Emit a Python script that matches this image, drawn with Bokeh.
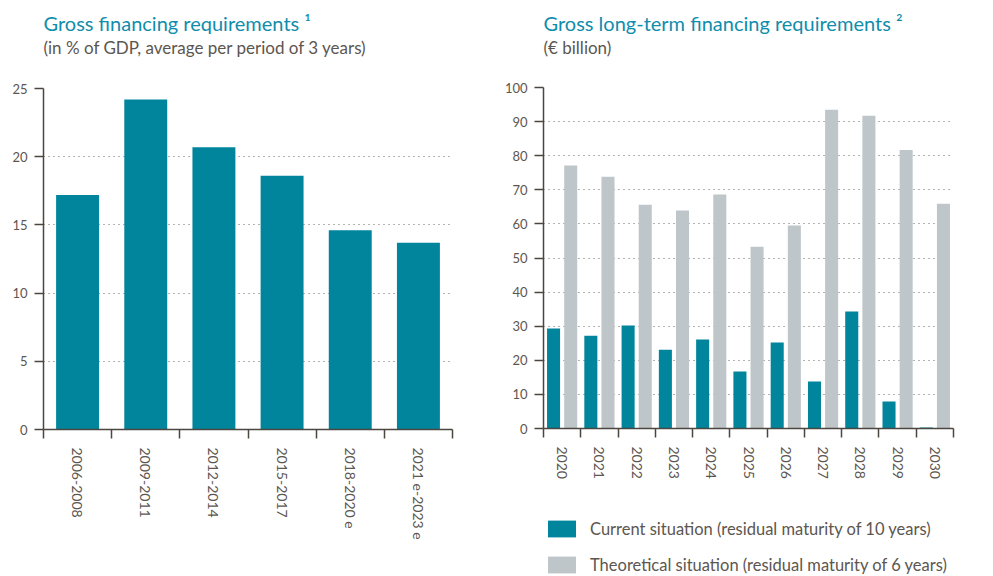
from bokeh.plotting import figure
from bokeh.models import FixedTicker, Range1d, Title, Legend, LegendItem
from bokeh.layouts import row, column
from bokeh.embed import file_html
from bokeh.resources import INLINE

# ---------------- data ----------------
periods = ["2006-2008", "2009-2011", "2012-2014", "2015-2017", "2018-2020 e", "2021 e-2023 e"]
gross_pct = [17.2, 24.2, 20.7, 18.6, 14.6, 13.7]
left_yticks = [0, 5, 10, 15, 20, 25]

years = ["2020", "2021", "2022", "2023", "2024", "2025", "2026", "2027", "2028", "2029", "2030"]
current = [29.3, 27.2, 30.2, 23.1, 26.1, 16.7, 25.2, 13.8, 34.3, 7.9, 0.3]
theoretical = [77.1, 73.8, 65.6, 63.9, 68.6, 53.3, 59.5, 93.5, 91.7, 81.7, 65.9]
right_yticks = [0, 10, 20, 30, 40, 50, 60, 70, 80, 90, 100]

title_left = "Gross financing requirements \u00b9"
sub_left = "(in % of GDP, average per period of 3 years)"
title_right = "Gross long-term financing requirements \u00b2"
sub_right = "(\u20ac billion)"
legend_current = "Current situation (residual maturity of 10 years)"
legend_theoretical = "Theoretical situation (residual maturity of 6 years)"

# ---------------- style ----------------
FONT = "Lato"
TEAL = "#00859c"
GREY = "#bfc6c9"
TITLE_C = "#0f8dab"
TEXT_C = "#5c5650"
AXIS_C = "#4b463f"


def add_titles(p, main, sub, spacer_standoff):
    p.add_layout(Title(text=" ", text_font_size="10px", standoff=spacer_standoff,
                       text_font=FONT), "above")
    p.add_layout(Title(text=sub, align="left", text_font=FONT, text_font_size="17px",
                       text_font_style="normal", text_color=TEXT_C, standoff=0, offset=0), "above")
    p.add_layout(Title(text=main, align="left", text_font=FONT, text_font_size="20px",
                       text_font_style="normal", text_color=TITLE_C, standoff=0, offset=0), "above")


def style_axes(p, yticks, cats):
    n = len(cats)
    p.outline_line_color = None
    p.xgrid.visible = False
    p.ygrid.ticker = FixedTicker(ticks=yticks)
    p.ygrid.grid_line_color = "#6b665f"
    p.ygrid.grid_line_dash = "1 4"
    p.ygrid.grid_line_width = 1

    ya = p.yaxis[0]
    ya.ticker = FixedTicker(ticks=yticks, minor_ticks=[])
    ya.axis_line_color = AXIS_C
    ya.axis_line_width = 1.5
    ya.major_tick_line_color = AXIS_C
    ya.major_tick_line_width = 1.5
    ya.major_tick_in = 0
    ya.major_tick_out = 9
    ya.minor_tick_line_color = None
    ya.major_label_standoff = 7
    ya.major_label_text_font = FONT
    ya.major_label_text_font_size = "13px"
    ya.major_label_text_color = TEXT_C

    xa = p.xaxis[0]
    centers = list(range(n))
    bounds = [i - 0.5 for i in range(n + 1)]
    xa.ticker = FixedTicker(ticks=centers, minor_ticks=bounds)
    xa.major_label_overrides = {i: c for i, c in zip(centers, cats)}
    xa.axis_line_color = AXIS_C
    xa.axis_line_width = 1.5
    xa.major_tick_line_color = None
    xa.major_tick_in = 0
    xa.major_tick_out = 0
    xa.minor_tick_line_color = AXIS_C
    xa.minor_tick_line_width = 1.5
    xa.minor_tick_in = 0
    xa.minor_tick_out = 9
    xa.major_label_orientation = "vertical"
    xa.major_label_standoff = 9
    xa.major_label_text_font = FONT
    xa.major_label_text_font_size = "14px"
    xa.major_label_text_color = TEXT_C


# ---------------- left chart ----------------
p1 = figure(width=498, height=576, output_backend="svg", toolbar_location=None,
            x_range=Range1d(-0.5, len(periods) - 0.5), y_range=Range1d(0, 25),
            min_border_left=43, min_border_right=46, min_border_top=88, min_border_bottom=147)
p1.vbar(x=list(range(len(periods))), top=gross_pct, width=0.63, fill_color=TEAL, line_color=None)
style_axes(p1, left_yticks, periods)
add_titles(p1, title_left, sub_left, 17)

# ---------------- right chart ----------------
idx = list(range(len(years)))
p2 = figure(width=495, height=500, output_backend="svg", toolbar_location=None,
            x_range=Range1d(-0.5, len(years) - 0.5), y_range=Range1d(0, 100),
            min_border_left=45, min_border_right=40, min_border_top=87, min_border_bottom=72)
p2.vbar(x=[i - 0.23 for i in idx], top=current, width=0.35, fill_color=TEAL, line_color=None)
p2.vbar(x=[i + 0.23 for i in idx], top=theoretical, width=0.35, fill_color=GREY, line_color=None)
style_axes(p2, right_yticks, years)
add_titles(p2, title_right, sub_right, 16)

# ---------------- legend strip (same series; value window kept off-view) ----------------
pl = figure(width=495, height=76, output_backend="svg", toolbar_location=None,
            x_range=Range1d(-0.5, len(years) - 0.5), y_range=Range1d(150, 151),
            x_axis_location=None, y_axis_location=None,
            min_border_left=45, min_border_right=40, min_border_top=0, min_border_bottom=0)
pl.outline_line_color = None
pl.grid.visible = False
leg_cur = pl.vbar(x=[i - 0.23 for i in idx], top=current, width=0.35, fill_color=TEAL, line_color=None)
leg_theo = pl.vbar(x=[i + 0.23 for i in idx], top=theoretical, width=0.35, fill_color=GREY, line_color=None)
legend = Legend(items=[LegendItem(label=legend_current, renderers=[leg_cur]),
                       LegendItem(label=legend_theoretical, renderers=[leg_theo])],
                location=(1, 1), orientation="vertical",
                glyph_width=35, glyph_height=21, spacing=15, label_standoff=11,
                padding=0, margin=0, border_line_color=None, background_fill_alpha=0,
                label_text_font=FONT, label_text_font_size="16.5px", label_text_color=TEXT_C)
pl.add_layout(legend)

layout = row(p1, column(p2, pl))
open("out.html", "w").write(file_html(layout, INLINE))
